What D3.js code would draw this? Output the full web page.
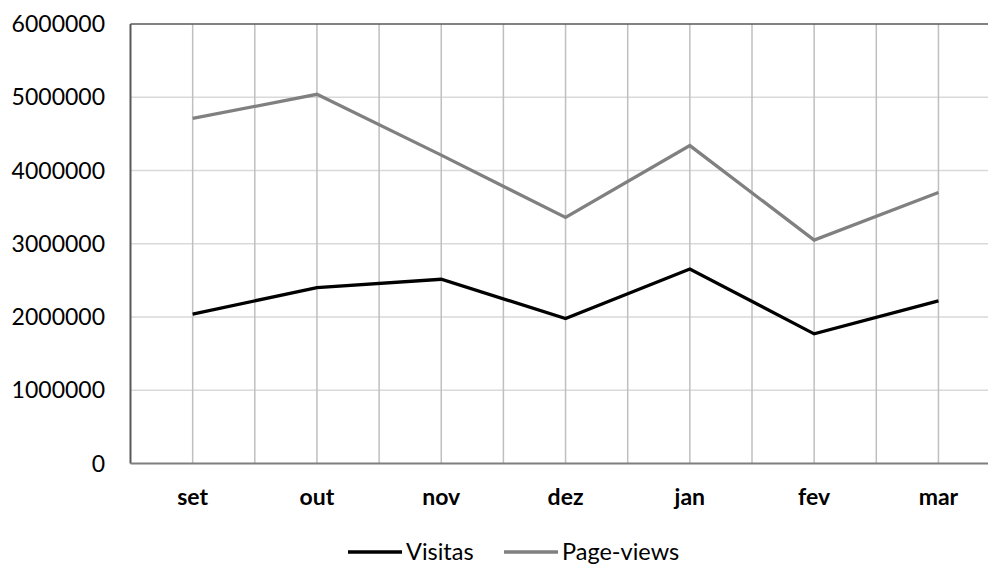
<!DOCTYPE html>
<html><head><meta charset="utf-8">
<script src="https://cdn.jsdelivr.net/npm/d3@7"></script>
<style>body{margin:0;background:#fff}svg{display:block}text{font-family:Lato,"Open Sans",sans-serif}</style>
</head><body><svg id="c" width="988" height="566"></svg>
<script>
const categories = ["set","out","nov","dez","jan","fev","mar"];
const visitas = [2040000,2400000,2515000,1980000,2655000,1770000,2220000];
const pageViews = [4710000,5040000,4210000,3360000,4340000,3050000,3700000];
const yTicks = [0,1000000,2000000,3000000,4000000,5000000,6000000];
const seriesNames = ["Visitas","Page-views"];
const seriesColors = ["#000000","#808080"];

const svg = d3.select("#c");
const L = 130.5, R = 1000.6, T = 24, B = 463.5;
const x = d3.scaleBand().domain(categories).range([L,R]).padding(0);
const y = d3.scaleLinear().domain([0,6000000]).range([B,T]);
const bw = x.bandwidth();

// horizontal gridlines
svg.append("g").selectAll("line").data(yTicks.filter(d=>d>0 && d<6000000)).join("line")
  .attr("x1",L).attr("x2",R).attr("y1",d=>y(d)).attr("y2",d=>y(d))
  .attr("stroke","#d9d9d9").attr("stroke-width",1.5);

// vertical gridlines at band edges and centers
const vpos = [];
categories.forEach(c=>{ vpos.push(x(c)+bw/2); vpos.push(x(c)+bw); });
svg.append("g").selectAll("line").data(vpos).join("line")
  .attr("x1",d=>d).attr("x2",d=>d).attr("y1",T).attr("y2",B)
  .attr("stroke","#bfbfbf").attr("stroke-width",1.5);

// frame: top, left, bottom
svg.append("line").attr("x1",L).attr("x2",R).attr("y1",T).attr("y2",T).attr("stroke","#595959").attr("stroke-width",1.5);
svg.append("line").attr("x1",L).attr("x2",L).attr("y1",T).attr("y2",B).attr("stroke","#595959").attr("stroke-width",2);
svg.append("line").attr("x1",L).attr("x2",R).attr("y1",B).attr("y2",B).attr("stroke","#7f7f7f").attr("stroke-width",2);

// y labels
svg.append("g").selectAll("text").data(yTicks).join("text")
  .attr("x",105).attr("y",d=>y(d)).attr("dy","0.35em").attr("text-anchor","end")
  .attr("font-size",23).attr("fill","#000").text(d=>d3.format("d")(d));

// x labels
svg.append("g").selectAll("text").data(categories).join("text")
  .attr("x",d=>x(d)+bw/2).attr("y",505).attr("text-anchor","middle")
  .attr("font-size",23).attr("font-weight","bold").attr("fill","#000").text(d=>d);

const line = d3.line().x((d,i)=>x(categories[i])+bw/2).y(d=>y(d));
[visitas,pageViews].forEach((s,k)=>{
  svg.append("path").attr("d",line(s)).attr("fill","none")
    .attr("stroke",seriesColors[k]).attr("stroke-width",3.3).attr("stroke-linejoin","miter");
});

// legend
const leg = [{x1:348,x2:402,tx:406},{x1:504,x2:558,tx:562}];
leg.forEach((l,k)=>{
  svg.append("line").attr("x1",l.x1).attr("x2",l.x2).attr("y1",552).attr("y2",552)
    .attr("stroke",seriesColors[k]).attr("stroke-width",3.3);
  svg.append("text").attr("x",l.tx).attr("y",560).attr("font-size",23.5).attr("fill","#000").text(seriesNames[k]);
});
</script></body></html>
